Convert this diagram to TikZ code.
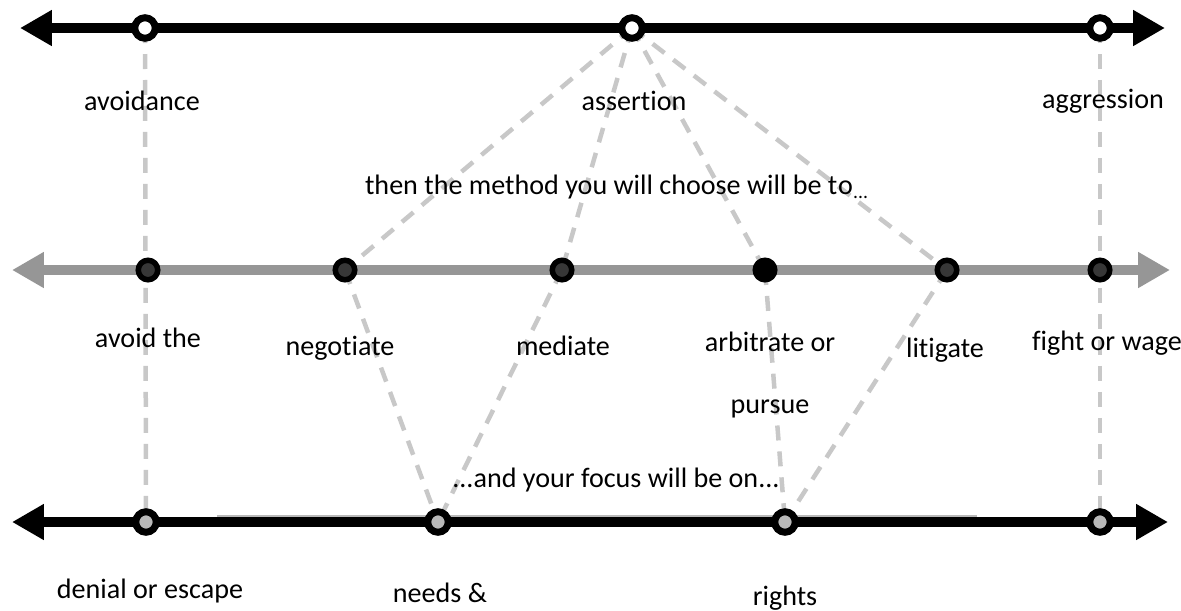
\documentclass[tikz,border=0pt]{standalone}
\usepackage{fontspec}
\setmainfont[Ligatures={NoCommon}]{Carlito}
\usetikzlibrary{arrows.meta}
\pgfdeclarelayer{background}
\pgfsetlayers{background,main}
\definecolor{axisgray}{RGB}{150,150,150}
\definecolor{dashgray}{RGB}{200,200,200}
\definecolor{coregray}{RGB}{55,55,55}
\definecolor{focusgray}{RGB}{185,185,185}
\tikzset{dot/.style={circle, draw=black, line width=1.4mm, minimum size=4.1mm, inner sep=0pt}}
\tikzset{stance/.style={dot, fill=white}}
\tikzset{method/.style={dot, fill=coregray, line width=1.1mm, minimum size=3.9mm}}
\tikzset{focus/.style={dot, fill=focusgray}}
\tikzset{link/.style={dashgray, line width=0.9mm, dash pattern=on 3mm off 2.2mm}}
\tikzset{axis/.style={line width=2mm, {Triangle[length=6.4mm,width=6.8mm]}-{Triangle[length=6.4mm,width=6.8mm]}}}
\tikzset{label/.style={font=\fontsize{16}{19}\selectfont, text=black, inner sep=1pt, anchor=base}}

\begin{document}
\begin{tikzpicture}[x=0.02cm, y=-0.02cm]
  \useasboundingbox (0,0) rectangle (1181,610);

  %% axis ends
  \coordinate (T0) at (20,28);
  \coordinate (T1) at (1165,28);
  \coordinate (M0) at (12,270);
  \coordinate (M1) at (1170,270);
  \coordinate (B0) at (12,522);
  \coordinate (B1) at (1168,522);

  %% nodes
  \draw (145,28) node[stance] (avoidance) {};
  \draw (632,28) node[stance] (assertion) {};
  \draw (1100,28) node[stance] (aggression) {};

  \draw (148,270) node[method] (avoid) {};
  \draw (345,270) node[method] (negotiate) {};
  \draw (562,270) node[method] (mediate) {};
  \draw (765,270) node[method,fill=black] (arbitrate) {};
  \draw (947,270) node[method] (litigate) {};
  \draw (1100,270) node[method] (fight) {};

  \draw (146,522) node[focus] (denial) {};
  \draw (438,522) node[focus] (needs) {};
  \draw (785,522) node[focus] (rights) {};
  \draw (1100,522) node[focus] (power) {};

  \begin{pgfonlayer}{background}
  %% dashed links
  \draw[link] (avoidance.center) -- (denial.center);
  \draw[link] (aggression.center) -- (power.center);
  \draw[link] (assertion.center) -- (negotiate.center);
  \draw[link] (assertion.center) -- (mediate.center);
  \draw[link] (assertion.center) -- (arbitrate.center);
  \draw[link] (assertion.center) -- (litigate.center);
  \draw[link] (negotiate.center) -- (needs.center);
  \draw[link] (mediate.center) -- (needs.center);
  \draw[link] (arbitrate.center) -- (rights.center);
  \draw[link] (litigate.center) -- (rights.center);

  %% axes
  \draw[axis] (T0) -- (T1);
  \draw[axis, axisgray] (M0) -- (M1);
  \draw[axis] (B0) -- (B1);
  \draw[focusgray, line width=0.3mm] (217,516) -- (977,516);
  \end{pgfonlayer}

  %% labels
  \draw (142,110) node[label] (lavoidance) {avoidance};
  \draw (634,110) node[label] (lassertion) {assertion};
  \draw (1103,108) node[label] (laggression) {aggression};
  \draw (617,194) node[label] (lmethod) {then the method you will choose will be t\textsuperscript{}o\textsubscript{...}};

  \draw (148,347) node[label] (lavoid) {avoid the};
  \draw (340,355) node[label] (lnegotiate) {negotiate};
  \draw (563,355) node[label] (lmediate) {mediate};
  \draw (770,351) node[label] (larbitrate) {arbitrate or};
  \draw (770,413) node[label] (lpursue) {pursue};
  \draw (945,357) node[label] (llitigate) {litigate};
  \draw (1107,350) node[label] (lfight) {fight or wage};

  \draw (616,487) node[label] (lfocus) {...and your focus will be on...};
  \draw (150,598) node[label] (ldenial) {denial or escape};
  \draw (440,602) node[label] (lneeds) {needs \&};
  \draw (785,605) node[label] (lrights) {rights};
\end{tikzpicture}
\end{document}
